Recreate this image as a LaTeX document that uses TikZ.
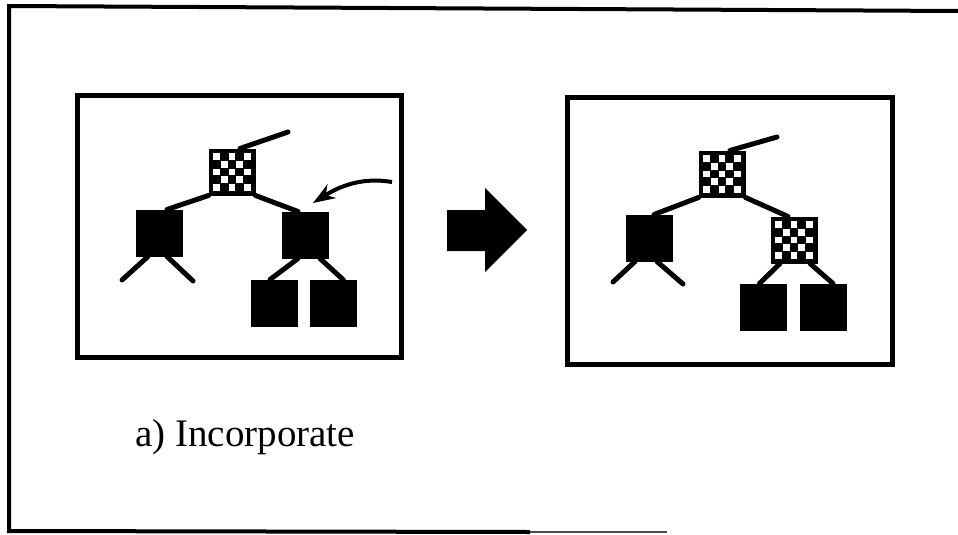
\documentclass[tikz,border=0pt]{standalone}
\usepackage{fontspec}
\setmainfont{Liberation Serif}
\usetikzlibrary{calc,arrows.meta}
\tikzset{
 blk/.style={draw=none, fill=black, minimum size=47pt, inner sep=0pt, outer sep=0pt},
 chk/.style={blk, path picture={
   \foreach \i in {0,...,4}{\foreach \j in {0,...,4}{
     \pgfmathtruncatemacro\kk{mod(\i+\j,2)}
     \ifnum\kk=0
       \fill[white] ($(path picture bounding box.north west)+(4.5+\i*7.8,4.5+\j*7.8)$) rectangle ++(6.8,6.8);
     \fi}}}},
 lnk/.style={line width=5pt, line cap=round},
 panel/.style={line width=4.5pt},
 frame/.style={line width=4pt},
}
\begin{document}
\begin{tikzpicture}[x=1pt,y=-1pt]
\useasboundingbox (0,0) rectangle (958,535);
% outer frame
\coordinate (F1) at (9,6);
\coordinate (F2) at (958,11);
\coordinate (F3) at (9,531);
\coordinate (F4) at (530,532);
\coordinate (F5) at (667,532);
\draw[frame] (F2) -- (F1) -- (F3) -- (F4);
\draw[line width=2pt, black!70] (F4) -- (F5);
% panels
\draw[panel] (77.5,95.5) rectangle (401.5,357.5);
\draw[panel] (567.5,97.5) rectangle (892.5,364.5);
% left tree
\node[chk] (C1) at (232,172) {};
\node[blk] (L1) at (159,233) {};
\node[blk] (R1) at (305,235) {};
\node[blk] (A1) at (274,303) {};
\node[blk] (B1) at (333.5,303.5) {};
\coordinate (T1) at (288,132);
\coordinate (LL1) at (122,280);
\coordinate (LR1) at (193,281);
\draw[lnk] ([xshift=8pt]C1.north) -- (T1);
\draw[lnk] (C1.south west) -- ([xshift=8pt]L1.north);
\draw[lnk] (C1.south east) -- ([xshift=-7pt]R1.north);
\draw[lnk] ([xshift=-11pt]L1.south) -- (LL1);
\draw[lnk] ([xshift=8pt]L1.south) -- (LR1);
\draw[lnk] ([xshift=-7pt]R1.south) -- ([xshift=-4pt]A1.north);
\draw[lnk] ([xshift=15pt]R1.south) -- ([xshift=10pt]B1.north);
\coordinate (P1) at (392,182);
\coordinate (P2) at (313,203);
\draw[line width=4pt, -{Stealth[length=22pt,width=16pt,inset=7pt]}] (P1) .. controls (362,177) and (340,186) .. (P2);
% big arrow
\fill (447,210) -- (485,210) -- (485,188) -- (527,230) -- (485,272) -- (485,251) -- (447,251) -- cycle;
% right tree
\node[chk] (C2) at (722,174) {};
\node[blk] (L2) at (649,238) {};
\node[chk] (C3) at (794,240) {};
\node[blk] (A2) at (763.5,307) {};
\node[blk] (B2) at (823,307) {};
\coordinate (T2) at (777,137);
\coordinate (LL2) at (613,282);
\coordinate (LR2) at (683,284);
\draw[lnk] ([xshift=8pt]C2.north) -- (T2);
\draw[lnk] (C2.south west) -- ([xshift=5pt]L2.north);
\draw[lnk] (C2.south east) -- ([xshift=-6pt]C3.north);
\draw[lnk] ([xshift=-14pt]L2.south) -- (LL2);
\draw[lnk] ([xshift=8pt]L2.south) -- (LR2);
\draw[lnk] ([xshift=-14pt]C3.south) -- ([xshift=-4pt]A2.north);
\draw[lnk] ([xshift=16pt]C3.south) -- ([xshift=10pt]B2.north);
% label
\node[anchor=base west, inner sep=0pt, font=\fontsize{39}{41}\selectfont] (lbl) at (135,446) {a) Incorporate};
\end{tikzpicture}
\end{document}
